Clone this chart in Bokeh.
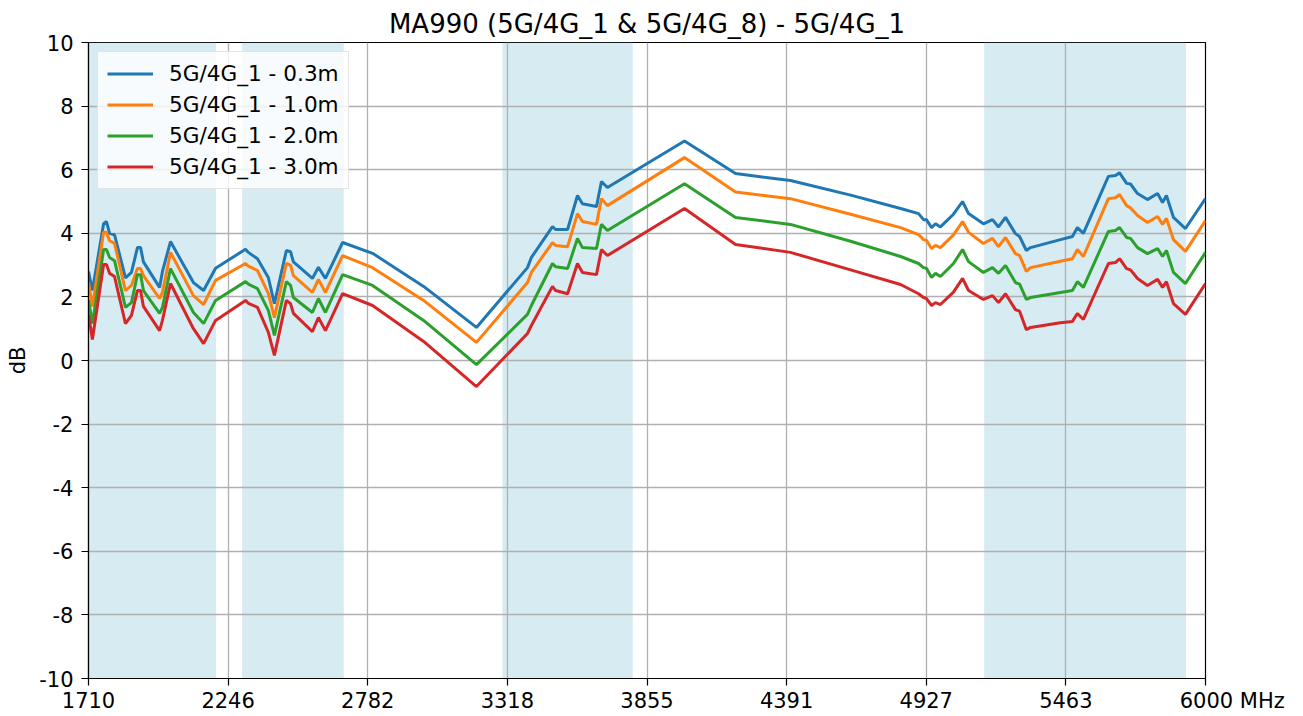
from bokeh.plotting import figure
from bokeh.models import BoxAnnotation, FixedTicker, Legend, LegendItem, Range1d
from bokeh.embed import file_html
from bokeh.resources import INLINE

# Frequency sample points (MHz) shared by all four cable-length series
freq = [1710, 1725, 1768, 1779, 1791, 1810, 1852, 1875, 1898, 1910, 1921, 1983, 1994, 2025,
        2113, 2152, 2198, 2313, 2324, 2359, 2401, 2424, 2470, 2486, 2497, 2570, 2593, 2620,
        2686, 2801, 2997, 3200, 3396, 3411, 3492, 3504, 3550, 3588, 3607, 3661, 3680, 3703,
        3999, 4195, 4406, 4637, 4829, 4898, 4917, 4928, 4948, 4963, 4982, 5032, 5067, 5090,
        5147, 5182, 5205, 5232, 5270, 5286, 5312, 5328, 5443, 5489, 5508, 5531, 5627, 5654,
        5670, 5697, 5712, 5739, 5777, 5816, 5835, 5850, 5877, 5923, 6000]

gain_03m = [2.8, 2.2, 4.3, 4.37, 4.0, 3.95, 2.6, 2.77, 3.55, 3.55, 3.1, 2.3, 2.8, 3.74,
            2.45, 2.2, 2.9, 3.5, 3.4, 3.2, 2.6, 1.79, 3.46, 3.42, 3.1, 2.58, 2.93, 2.58,
            3.71, 3.37, 2.33, 1.04, 2.92, 3.24, 4.21, 4.12, 4.12, 5.19, 4.93, 4.84, 5.63, 5.44,
            6.9, 5.88, 5.66, 5.2, 4.78, 4.62, 4.43, 4.43, 4.18, 4.3, 4.2, 4.6, 5.0, 4.62,
            4.3, 4.43, 4.2, 4.5, 3.99, 3.9, 3.46, 3.55, 3.8, 3.9, 4.18, 4.0, 5.79, 5.82,
            5.9, 5.57, 5.55, 5.25, 5.06, 5.25, 4.97, 5.19, 4.5, 4.15, 5.09]

gain_10m = [2.45, 1.7, 4.03, 4.03, 3.77, 3.68, 2.2, 2.36, 2.89, 2.89, 2.67, 1.95, 2.14, 3.4,
            2.04, 1.76, 2.52, 3.05, 2.97, 2.83, 2.1, 1.35, 3.05, 3.0, 2.67, 2.14, 2.55, 2.14,
            3.3, 2.92, 1.89, 0.57, 2.45, 2.77, 3.71, 3.62, 3.58, 4.62, 4.37, 4.28, 5.09, 4.87,
            6.38, 5.3, 5.09, 4.6, 4.18, 3.96, 3.8, 3.78, 3.52, 3.62, 3.55, 3.95, 4.37, 4.03,
            3.68, 3.84, 3.58, 3.87, 3.36, 3.3, 2.8, 2.92, 3.12, 3.2, 3.49, 3.27, 5.09, 5.12,
            5.22, 4.87, 4.8, 4.56, 4.34, 4.53, 4.28, 4.47, 3.8, 3.43, 4.4]

gain_20m = [1.9, 1.16, 3.49, 3.49, 3.24, 3.14, 1.67, 1.82, 2.7, 2.7, 2.2, 1.48, 1.67, 2.89,
            1.51, 1.16, 1.89, 2.48, 2.4, 2.26, 1.57, 0.79, 2.48, 2.36, 1.98, 1.51, 1.95, 1.51,
            2.7, 2.36, 1.26, -0.13, 1.45, 1.73, 3.05, 2.95, 2.89, 3.84, 3.55, 3.52, 4.28, 4.09,
            5.56, 4.5, 4.28, 3.75, 3.27, 3.05, 2.92, 2.9, 2.61, 2.74, 2.64, 3.05, 3.49, 3.11,
            2.77, 2.92, 2.74, 2.99, 2.45, 2.4, 1.92, 1.98, 2.14, 2.2, 2.48, 2.3, 4.06, 4.09,
            4.18, 3.87, 3.84, 3.55, 3.36, 3.52, 3.27, 3.46, 2.77, 2.42, 3.4]

gain_30m = [1.45, 0.66, 3.02, 3.02, 2.74, 2.64, 1.16, 1.42, 2.2, 2.2, 1.7, 0.94, 1.26, 2.42,
            1.0, 0.53, 1.26, 1.89, 1.8, 1.67, 0.88, 0.16, 1.89, 1.79, 1.48, 0.91, 1.35, 0.94,
            2.1, 1.73, 0.6, -0.82, 0.85, 1.1, 2.33, 2.2, 2.1, 3.05, 2.77, 2.7, 3.49, 3.3,
            4.78, 3.65, 3.4, 2.85, 2.39, 2.1, 1.98, 1.95, 1.73, 1.82, 1.76, 2.15, 2.58, 2.2,
            1.92, 2.04, 1.82, 2.1, 1.6, 1.55, 0.97, 1.04, 1.19, 1.23, 1.48, 1.29, 3.05, 3.08,
            3.2, 2.89, 2.85, 2.58, 2.36, 2.55, 2.3, 2.48, 1.79, 1.45, 2.42]

series_names = ["5G/4G_1 - 0.3m", "5G/4G_1 - 1.0m", "5G/4G_1 - 2.0m", "5G/4G_1 - 3.0m"]
series_colors = ["#1f77b4", "#ff7f0e", "#2ca02c", "#d62728"]

# Operating bands (MHz)
band_start = [1710, 2300, 3300, 5150]
band_end = [2200, 2690, 3800, 5925]

NBSP = "\u00a0"
x_ticks = [1710, 2246.25, 2782.5, 3318.75, 3855, 4391.25, 4927.5, 5463.75, 6000]
# the last label carries the unit; leading no-break spaces keep "6000" under its tick
x_tick_labels = ["1710", "2246", "2782", "3318", "3855", "4391", "4927", "5463",
                 NBSP * 8 + "6000 MHz"]
y_ticks = [-10, -8, -6, -4, -2, 0, 2, 4, 6, 8, 10]
y_tick_labels = ["-10", "-8", "-6", "-4", "-2", "0", "2", "4", "6", "8", "10"]

FONT = "DejaVu Sans"
TICK_SIZE = "21px"

p = figure(width=1303, height=716, output_backend="svg", toolbar_location=None,
           x_range=Range1d(1710, 6000), y_range=Range1d(-10, 10),
           title="MA990 (5G/4G_1 & 5G/4G_8) - 5G/4G_1")
p.min_border_left = 88
p.min_border_right = 98
p.min_border_top = 42
p.min_border_bottom = 38
p.background_fill_color = "white"
p.border_fill_color = "white"
p.outline_line_color = "black"
p.outline_line_width = 1.2

p.title.align = "center"
p.title.text_font = FONT
p.title.text_font_size = "26px"
p.title.text_font_style = "normal"
p.title.text_color = "black"
p.title.standoff = 7
p.title.text_line_height = 1.0

# Shaded bands sit beneath the grid
for b0, b1 in zip(band_start, band_end):
    p.add_layout(BoxAnnotation(left=b0, right=b1, fill_color="lightblue", fill_alpha=0.5,
                               line_color=None, level="image"))

p.xgrid.grid_line_color = "#b0b0b0"
p.ygrid.grid_line_color = "#b0b0b0"
p.xgrid.grid_line_width = 1.3
p.ygrid.grid_line_width = 1.3

for ax in (p.xaxis[0], p.yaxis[0]):
    ax.axis_line_color = "black"
    ax.axis_line_width = 1.2
    ax.major_tick_line_color = "black"
    ax.major_tick_line_width = 1.2
    ax.major_tick_out = 7
    ax.major_tick_in = 0
    ax.minor_tick_line_color = None
    ax.major_label_text_font = FONT
    ax.major_label_text_font_size = TICK_SIZE
    ax.major_label_text_color = "black"

p.xaxis.major_label_standoff = 3
p.yaxis.major_label_standoff = 8

p.xaxis.ticker = FixedTicker(ticks=x_ticks)
p.xaxis.major_label_overrides = dict(zip(x_ticks, x_tick_labels))
p.yaxis.ticker = FixedTicker(ticks=y_ticks)
p.yaxis.major_label_overrides = dict(zip(y_ticks, y_tick_labels))
p.xgrid.ticker = FixedTicker(ticks=x_ticks)
p.ygrid.ticker = FixedTicker(ticks=y_ticks)

p.yaxis.axis_label = "dB"
p.yaxis.axis_label_text_font = FONT
p.yaxis.axis_label_text_font_size = TICK_SIZE
p.yaxis.axis_label_text_font_style = "normal"
p.yaxis.axis_label_text_color = "black"
p.yaxis.axis_label_standoff = 6

items = []
for name, color, vals in zip(series_names, series_colors,
                             [gain_03m, gain_10m, gain_20m, gain_30m]):
    r = p.line(freq, vals, line_color=color, line_width=3)
    items.append(LegendItem(label=name, renderers=[r]))

legend = Legend(items=items, location="top_left")
legend.margin = 9
legend.padding = 9
legend.spacing = 6
legend.glyph_width = 46
legend.glyph_height = 25
legend.label_standoff = 16
legend.label_text_font = FONT
legend.label_text_font_size = "21.6px"
legend.label_text_color = "black"
legend.background_fill_color = "white"
legend.background_fill_alpha = 0.8
legend.border_line_color = "#cccccc"
legend.border_line_width = 1
p.add_layout(legend)

open("out.html", "w").write(file_html(p, INLINE))
